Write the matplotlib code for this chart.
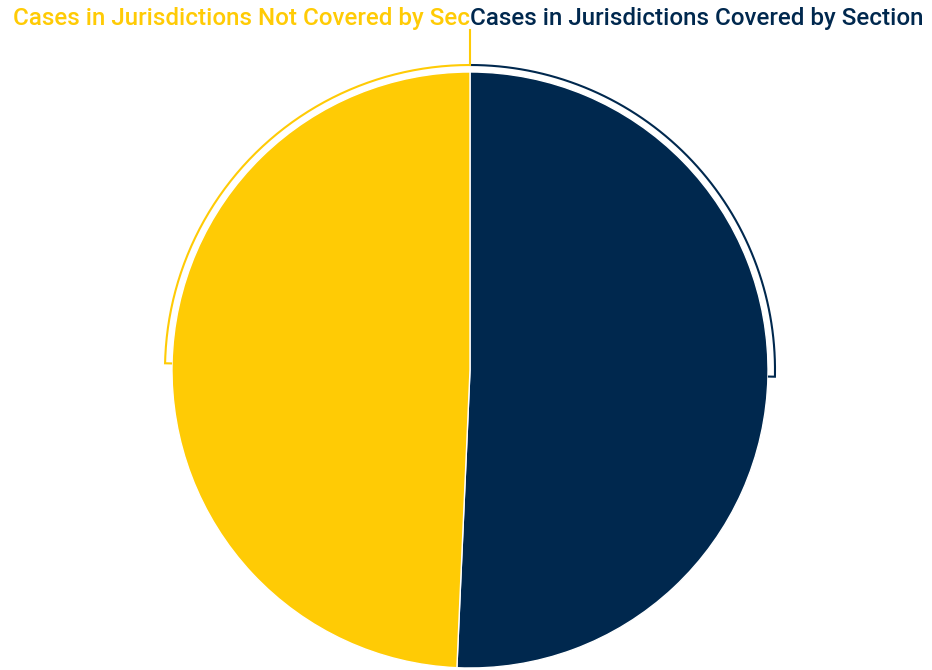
import numpy as np
import matplotlib.pyplot as plt

# Share of cases by Section 5 coverage
labels = ["Cases in Jurisdictions Covered by Section", "Cases in Jurisdictions Not Covered by Sec"]
shares = [50.7, 49.3]
colors = ["#00284E", "#FFCB05"]

W, H = 932, 670
fig = plt.figure(figsize=(W / 100, H / 100), dpi=100)
ax = fig.add_axes([0, 0, 1, 1])

cx, cy, r = 470, 300, 298
ax.pie(shares, colors=colors, startangle=90, counterclock=False,
       center=(cx, cy), radius=r, frame=True,
       wedgeprops=dict(edgecolor="white", linewidth=1))
ax.set_xlim(0, W)
ax.set_ylim(0, H)
ax.set_aspect("equal")
ax.axis("off")

# Bracket arcs from each slice's start to its midpoint
r_arc = 305
total = sum(shares)
start = 90.0
for i, (v, c) in enumerate(zip(shares, colors)):
    sweep = 360.0 * v / total
    half = sweep / 2
    if i == 0:
        th = np.radians(np.linspace(start, start - half, 200))
    else:
        th = np.radians(np.linspace(start, start + half, 200))
    xs = cx + r_arc * np.cos(th)
    ys = cy + r_arc * np.sin(th)
    # inward tick at the midpoint end
    xs = np.append(xs, cx + r * np.cos(th[-1]))
    ys = np.append(ys, cy + r * np.sin(th[-1]))
    ax.plot(xs, ys, color=c, lw=1.5, solid_capstyle="butt", solid_joinstyle="miter")

# Leader line up to the labels
ax.plot([cx, cx], [cy + r_arc, H - 30], color=colors[1], lw=1.5)

ax.text(cx, H - 18, labels[1], color=colors[1], ha="right", va="center",
        fontsize=17.4, family="Roboto", weight="medium")
ax.text(cx, H - 18, labels[0], color=colors[0], ha="left", va="center",
        fontsize=17.4, family="Roboto", weight="medium")

fig.savefig("out.png", dpi=100, facecolor="white")
